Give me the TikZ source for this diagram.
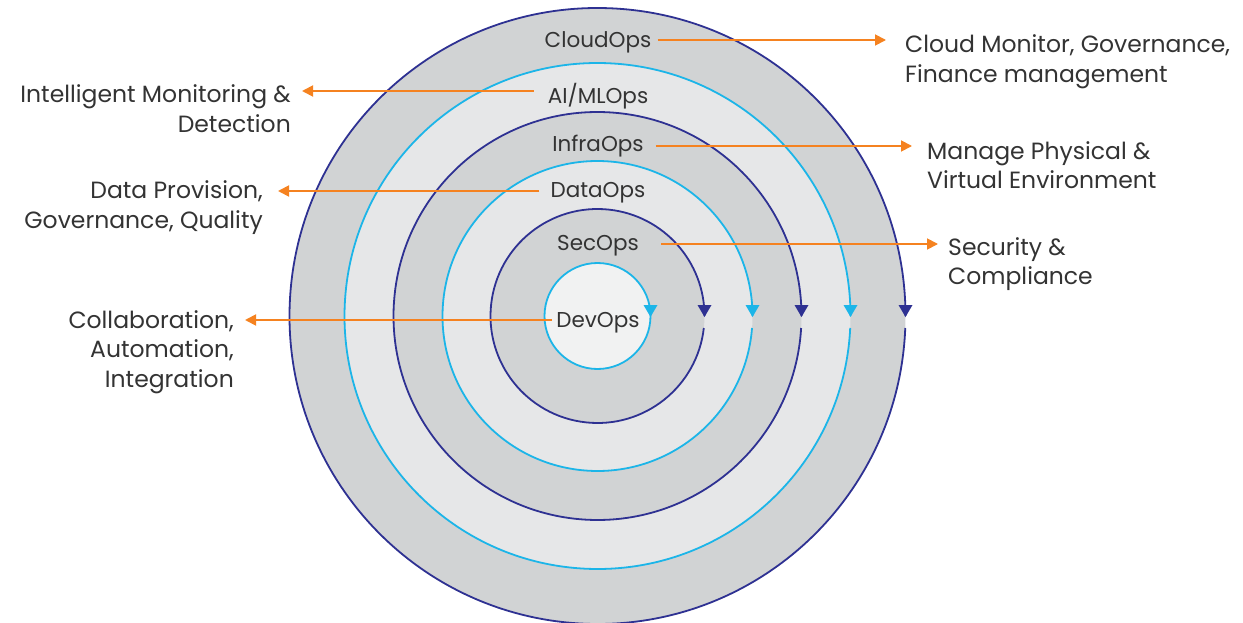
\documentclass[tikz,border=0pt]{standalone}
\usepackage{fontspec}
\setmainfont{Poppins}
\usetikzlibrary{arrows.meta,calc}

\definecolor{navy}{HTML}{2E3192}
\definecolor{sky}{HTML}{1CB5E8}
\definecolor{ringdark}{HTML}{D1D3D4}
\definecolor{ringlight}{HTML}{E6E7E8}
\definecolor{core}{HTML}{F1F2F2}
\definecolor{accent}{HTML}{F58220}
\definecolor{ink}{HTML}{333333}

\tikzset{
  layer/.style={font=\fontsize{21.5}{25}\selectfont, text=ink, inner sep=0pt},
  descr/.style={font=\fontsize{23.5}{29.5}\selectfont, text=ink, inner sep=0pt},
  link/.style={draw=accent, line width=1.8pt, -{Triangle[length=11pt,width=11pt]}},
  ring/.style={line width=1.8pt},
}

% ring outline with a gap just below its right-hand point and a downward tip
\newcommand{\ringline}[2]{%
  \pgfmathsetmacro{\gapang}{asin(12/#1)}
  \draw[ring, draw=#2] ($(c)+(\gapang:#1)$) arc[start angle=\gapang, end angle=360, radius=#1];
  \fill[#2] ($(c)+(#1,0)+(-7,-11)$) -- ($(c)+(#1,0)+(7,-11)$) -- ($(c)+(#1,1)$) -- cycle;
}

\begin{document}
\begin{tikzpicture}[x=1pt,y=-1pt]
\useasboundingbox (0,0) rectangle (1243,623);
\coordinate (c) at (597.5,316);

% ring fills, outermost first
\fill[ringdark]  (c) circle[radius=308];
\fill[ringlight] (c) circle[radius=253];
\fill[ringdark]  (c) circle[radius=204];
\fill[ringlight] (c) circle[radius=155];
\fill[ringdark]  (c) circle[radius=107];
\fill[core]      (c) circle[radius=53];

% ring outlines with arrowheads
\ringline{308}{navy}
\ringline{253}{sky}
\ringline{204}{navy}
\ringline{155}{sky}
\ringline{107}{navy}
\draw[ring, draw=sky] (c) circle[radius=53];
\fill[sky] ($(c)+(53,0)+(-7,-11)$) -- ($(c)+(53,0)+(7,-11)$) -- ($(c)+(53,1)$) -- cycle;

% layer names
\node[layer] (cloud) at (598,42)  {CloudOps};
\node[layer] (aiml)  at (598,96)  {AI/MLOps};
\node[layer] (infra) at (598,146) {InfraOps};
\node[layer] (data)  at (598,193) {DataOps};
\node[layer] (sec)   at (598,246) {SecOps};
\node[layer] (dev)   at (598,323) {DevOps};

% descriptions
\node[descr, anchor=west, align=left]  (cloudD) at (905,61.5)  {Cloud Monitor, Governance,\\Finance management};
\node[descr, anchor=east, align=right] (aimlD)  at (291,108.5) {Intelligent Monitoring \&\\Detection};
\node[descr, anchor=west, align=left]  (infraD) at (927,165)   {Manage Physical \&\\Virtual Environment};
\node[descr, anchor=east, align=right] (dataD)  at (263,207.5) {Data Provision,\\Governance, Quality};
\node[descr, anchor=west, align=left]  (secD)   at (948,264)   {Security \&\\Compliance};
\node[descr, anchor=east, align=right] (devD)   at (234,352)   {Collaboration,\\Automation,\\Integration};

% connectors
\draw[link] ($(cloud.east)+(6,-2)$) -- ($(cloudD.west |- cloud.east)+(-19,-2)$);
\draw[link] ($(aiml.west)+(-14,-5)$) -- ($(aimlD.east |- aiml.west)+(11,-5)$);
\draw[link] ($(infra.east)+(12,0)$) -- ($(infraD.west |- infra.east)+(-15,0)$);
\draw[link] ($(data.west)+(-11,-2)$) -- ($(dataD.east |- data.west)+(15,-2)$);
\draw[link] ($(sec.east)+(22,-2)$) -- ($(secD.west |- sec.east)+(-10,-2)$);
\draw[link] ($(dev.west)+(-4,-3)$) -- ($(devD.east |- dev.west)+(11,-3)$);
\end{tikzpicture}
\end{document}
